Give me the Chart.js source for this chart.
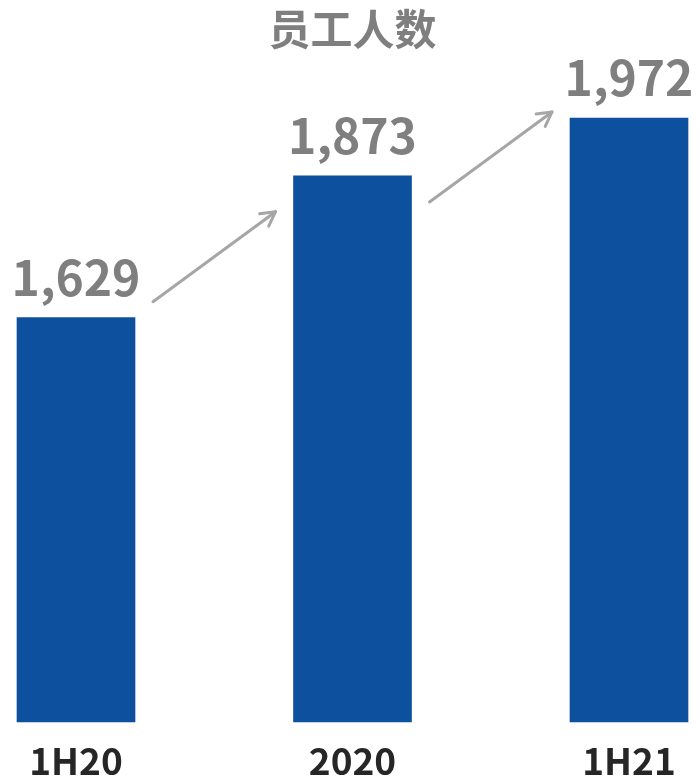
<!DOCTYPE html>
<html lang="zh">
<head>
  <meta charset="UTF-8" />
  <title>员工人数</title>
  <script src="https://cdn.jsdelivr.net/npm/chart.js"></script>
  <style>
    html, body { margin: 0; padding: 0; background: #fff; }
    #wrap { width: 700px; height: 779px; }
  </style>
</head>
<body>
<div id="wrap"><canvas id="grafik"></canvas></div>
<script>
  // 数据
  const categories = ['1H20', '2020', '1H21'];
  const headcount = [1629, 1873, 1972];
  const chartTitle = '员工人数';
  const yMin = 934;
  const yMax = 2006;

  const FONT = '"Noto Sans CJK SC", "Noto Sans", sans-serif';
  const barColor = '#0d519e';
  const labelGray = '#7f7f7f';
  const arrowGray = '#a6a6a6';

  // 柱顶数值 + 柱间箭头
  const decorations = {
    id: 'decorations',
    afterDatasetsDraw(chart) {
      const ctx = chart.ctx;
      const bars = chart.getDatasetMeta(0).data;

      ctx.save();
      ctx.fillStyle = labelGray;
      ctx.font = 'bold 48px ' + FONT;
      ctx.textAlign = 'center';
      ctx.textBaseline = 'alphabetic';
      bars.forEach((bar, i) => {
        ctx.fillText(headcount[i].toLocaleString('en-US'), bar.x, bar.y - 22);
      });

      ctx.strokeStyle = arrowGray;
      ctx.lineWidth = 3;
      ctx.lineCap = 'round';
      ctx.lineJoin = 'round';
      for (let i = 0; i < bars.length - 1; i++) {
        const a = bars[i], b = bars[i + 1];
        const x0 = a.x + a.width / 2 + 18;
        const x1 = b.x - b.width / 2 - 18;
        const midY = (a.y + b.y) / 2 + 10;
        const y0 = midY + 45, y1 = midY - 45;
        ctx.beginPath();
        ctx.moveTo(x0, y0);
        ctx.lineTo(x1, y1);
        ctx.stroke();
        // 箭头
        const ang = Math.atan2(y1 - y0, x1 - x0);
        const len = 16, spread = 0.5;
        ctx.beginPath();
        ctx.moveTo(x1 - len * Math.cos(ang - spread), y1 - len * Math.sin(ang - spread));
        ctx.lineTo(x1, y1);
        ctx.lineTo(x1 - len * Math.cos(ang + spread), y1 - len * Math.sin(ang + spread));
        ctx.stroke();
      }
      ctx.restore();
    }
  };

  new Chart(document.getElementById('grafik'), {
    type: 'bar',
    data: {
      labels: categories,
      datasets: [{
        data: headcount,
        backgroundColor: barColor,
        barThickness: 118,
        base: yMin,
        clip: false
      }]
    },
    options: {
      responsive: true,
      maintainAspectRatio: false,
      animation: false,
      layout: { padding: { left: 76, right: 71, top: 0, bottom: -22 } },
      plugins: {
        legend: { display: false },
        tooltip: { enabled: false },
        title: {
          display: true,
          text: chartTitle,
          color: labelGray,
          font: { family: FONT, size: 42, weight: 'bold', lineHeight: 1.2 },
          padding: { top: 4, bottom: 44 }
        }
      },
      scales: {
        x: {
          offset: false,
          grid: { display: false, drawTicks: false },
          border: { display: false },
          ticks: {
            color: '#262626',
            padding: 22,
            font: { family: FONT, size: 37, weight: 'bold', lineHeight: 0.95 },
            maxRotation: 0,
            autoSkip: false
          }
        },
        y: {
          display: false,
          min: yMin,
          max: yMax
        }
      }
    },
    plugins: [decorations]
  });
</script>
</body>
</html>
